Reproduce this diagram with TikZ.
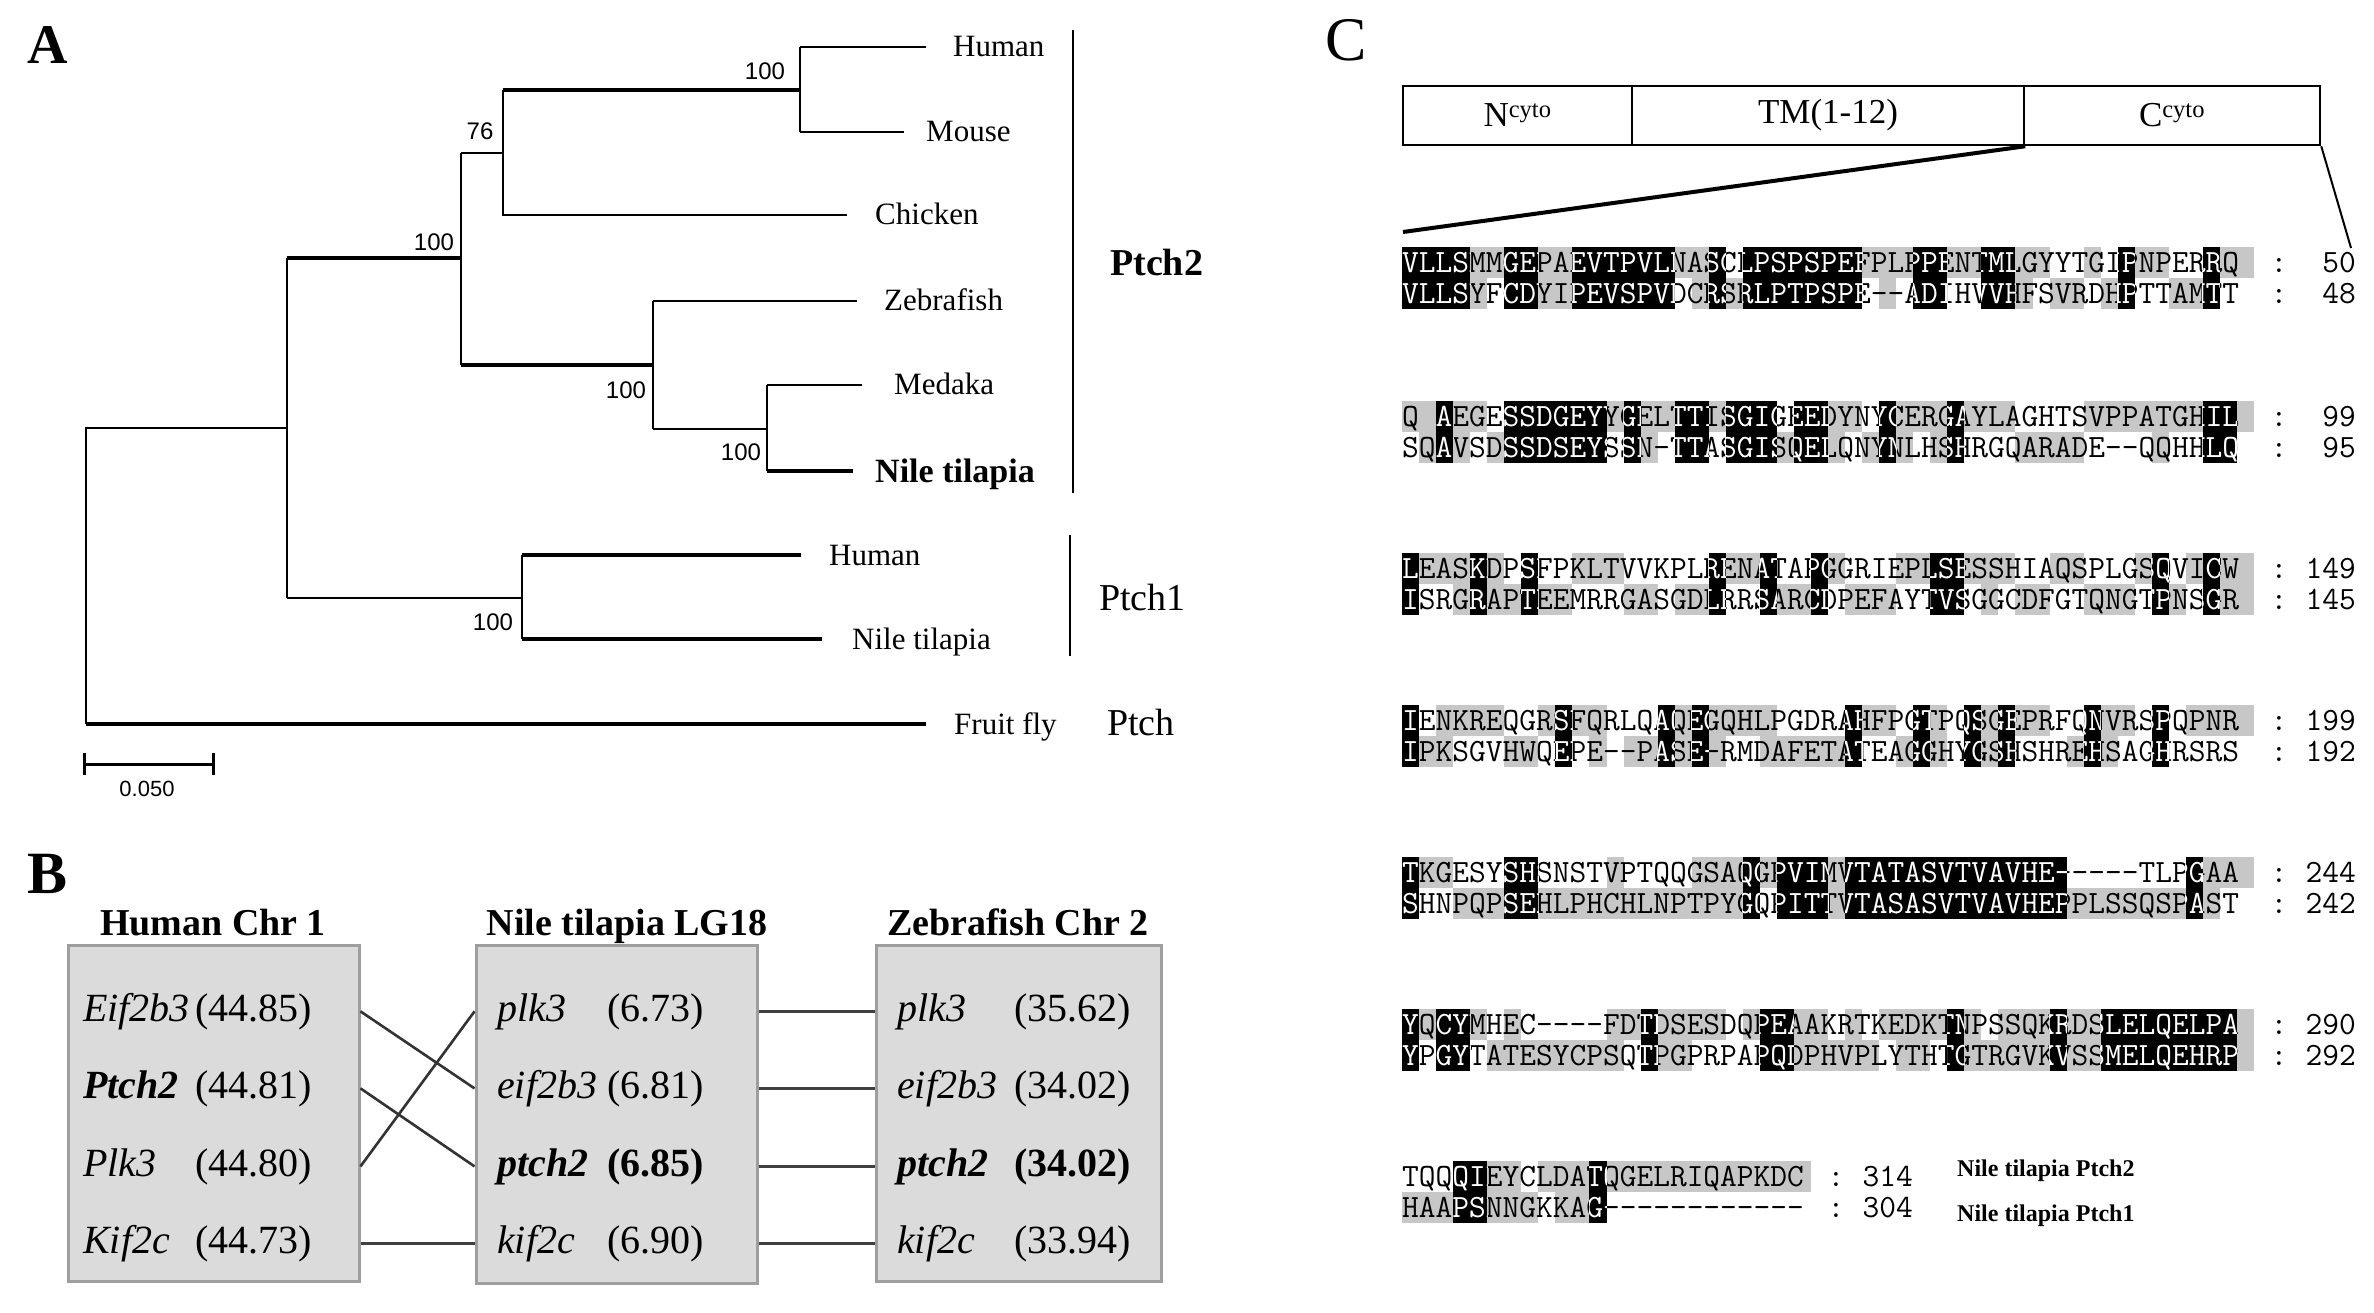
\documentclass[tikz,border=0pt]{standalone}
\usepackage{fontspec}
\setmainfont{Liberation Serif}
\newfontfamily\sansf{Liberation Sans}
\def\sx{1402}
\def\cw{17.04}
\tikzset{
  br/.style={line width=2.2pt},
  thk/.style={line width=4.2pt},
  leaf/.style={anchor=base west, inner sep=0pt, font=\fontsize{31}{36}\selectfont},
  boot/.style={anchor=center, inner sep=0pt, font=\sansf\fontsize{24}{28}\selectfont},
  clade/.style={anchor=base west, inner sep=0pt, font=\fontsize{38}{44}\selectfont},
  panel/.style={anchor=base west, inner sep=0pt},
  chrbox/.style={draw=black!38, fill=black!14, line width=3pt, inner sep=0pt},
  gene/.style={anchor=base west, inner sep=0pt, font=\fontsize{40}{46}\selectfont},
  genenum/.style={anchor=base east, inner sep=0pt, font=\fontsize{40}{46}\selectfont},
  hdr/.style={anchor=base, inner sep=0pt, font=\bfseries\fontsize{38}{44}\selectfont},
  conn/.style={line width=2.6pt, draw=black!80},
  connh/.style={line width=3.6pt, draw=black!75},
  dom/.style={draw, line width=2.5pt, inner sep=0pt, font=\fontsize{35}{40}\selectfont},
  seq/.style={anchor=base west, inner sep=0pt, font=\ttfamily\fontsize{32.5}{36}\selectfont},
  seqnum/.style={anchor=base east, inner sep=0pt, font=\ttfamily\fontsize{32.5}{36}\selectfont},
  seqcol/.style={anchor=base, inner sep=0pt, font=\ttfamily\fontsize{32.5}{36}\selectfont},
  gcell/.style={fill=black!22},
  sname/.style={anchor=base west, inner sep=0pt, font=\bfseries\fontsize{24}{28}\selectfont}
}
% #1 y of row 1, #2 seq1, #3 seq2, #4 num1, #5 num2, #6 black cols, #7 gray row1, #8 gray row2, #9 colon x
\newcommand{\alnblock}[9]{%
  \foreach \c in {#7} {\fill[gcell] ({\sx+\c*\cw},{#1-15.5}) rectangle ++(\cw,31);}
  \foreach \c in {#8} {\fill[gcell] ({\sx+\c*\cw},{#1+15.5}) rectangle ++(\cw,31);}
  \foreach \c in {#6} {\fill[black] ({\sx+\c*\cw},{#1-15.5}) rectangle ++(\cw,62);}
  \node[seq] (sa#1) at (\sx,{#1+10}) {#2};
  \node[seq] (sb#1) at (\sx,{#1+41}) {#3};
  \foreach \c in {#6} {\begin{scope}
     \clip ({\sx+\c*\cw},{#1-15.5}) rectangle ++(\cw,62);
     \node[seq,text=white] at (\sx,{#1+10}) {#2};
     \node[seq,text=white] at (\sx,{#1+41}) {#3};
   \end{scope}}
  \node[seqcol] (ca#1) at (#9,{#1+10}) {:};
  \node[seqcol] (cb#1) at (#9,{#1+41}) {:};
  \node[seqnum] (na#1) at ({#9+77},{#1+10}) {#4};
  \node[seqnum] (nb#1) at ({#9+77},{#1+41}) {#5};
}
\begin{document}
\begin{tikzpicture}[x=1pt,y=-1pt]
\useasboundingbox (0,0) rectangle (2374,1313);
\fill[white] (0,0) rectangle (2374,1313);

% ---------------- Panel A ----------------
\node[panel, font=\bfseries\fontsize{56}{60}\selectfont] (labA) at (27,64) {A};

\draw[br] (287,428) -- (86,428) -- (86,724);
\draw[thk] (86,724) -- (926,724);
\draw[br] (287,258) -- (287,598);
\draw[thk] (287,258) -- (461,258);
\draw[br] (287,598) -- (522,598);
\draw[br] (461,153) -- (461,365);
\draw[br] (461,153) -- (503,153);
\draw[br] (503,90) -- (503,215) -- (847,215);
\draw[thk] (503,90) -- (800,90);
\draw[br] (800,47) -- (800,132);
\draw[br] (800,47) -- (926,47);
\draw[br] (800,132) -- (904,132);
\draw[thk] (461,365) -- (653,365);
\draw[br] (653,301) -- (653,429);
\draw[br] (653,301) -- (857,301);
\draw[br] (653,429) -- (767,429);
\draw[br] (767,385) -- (767,471);
\draw[br] (767,385) -- (862,385);
\draw[thk] (767,471) -- (853,471);
\draw[br] (522,555) -- (522,639);
\draw[thk] (522,555) -- (801,555);
\draw[thk] (522,639) -- (822,639);

\node[leaf] (l1) at (953,57) {Human};
\node[leaf] (l2) at (926,142) {Mouse};
\node[leaf] (l3) at (875,225) {Chicken};
\node[leaf] (l4) at (884,311) {Zebrafish};
\node[leaf] (l5) at (894,395) {Medaka};
\node[leaf, font=\bfseries\fontsize{34}{38}\selectfont] (l6) at (875,482) {Nile tilapia};
\node[leaf] (l7) at (829,565) {Human};
\node[leaf] (l8) at (852,649) {Nile tilapia};
\node[leaf] (l9) at (954,734) {Fruit fly};

\node[boot] (b1) at (765,71) {100};
\node[boot] (b2) at (480,131) {76};
\node[boot] (b3) at (434,242) {100};
\node[boot] (b4) at (626,390) {100};
\node[boot] (b5) at (741,452) {100};
\node[boot] (b6) at (493,622) {100};

\draw[br] (1073,30) -- (1073,493);
\draw[br] (1070,535) -- (1070,656);
\node[clade, font=\bfseries\fontsize{38}{44}\selectfont] (p2) at (1110,276) {Ptch2};
\node[clade] (p1) at (1099,610) {Ptch1};
\node[clade] (p0) at (1107,735) {Ptch};

\draw[line width=3pt] (84,764) -- (213,764);
\draw[line width=3pt] (84,753) -- (84,775);
\draw[line width=3pt] (213,753) -- (213,775);
\node[boot, font=\sansf\fontsize{22}{26}\selectfont] (sb) at (147,789) {0.050};

% ---------------- Panel B ----------------
\node[panel, font=\bfseries\fontsize{60}{64}\selectfont] (labB) at (27,893) {B};

\node[hdr] (hh) at (213,935) {Human Chr 1};
\node[hdr] (hn) at (627,935) {Nile tilapia LG18};
\node[hdr] (hz) at (1018,935) {Zebrafish Chr 2};

\node[chrbox, minimum width=291pt, minimum height=336pt] (hbox) at (213.5,1113) {};
\node[chrbox, minimum width=281pt, minimum height=338pt] (nbox) at (616.5,1114) {};
\node[chrbox, minimum width=285pt, minimum height=336pt] (zbox) at (1018.5,1113) {};

% Human
\node[gene] (h1) at (83,1021) {\itshape Eif2b3};
\node[genenum] (h1n) at (312,1021) {(44.85)};
\node[gene] (h2) at (83,1098) {\bfseries\itshape Ptch2};
\node[genenum] (h2n) at (312,1098) {(44.81)};
\node[gene] (h3) at (83,1176) {\itshape Plk3};
\node[genenum] (h3n) at (312,1176) {(44.80)};
\node[gene] (h4) at (83,1253) {\itshape Kif2c};
\node[genenum] (h4n) at (312,1253) {(44.73)};
% Nile tilapia
\node[gene] (n1) at (497,1021) {\itshape plk3};
\node[genenum] (n1n) at (704,1021) {(6.73)};
\node[gene] (n2) at (497,1098) {\itshape eif2b3};
\node[genenum] (n2n) at (704,1098) {(6.81)};
\node[gene] (n3) at (497,1176) {\bfseries\itshape ptch2};
\node[genenum] (n3n) at (704,1176) {\bfseries (6.85)};
\node[gene] (n4) at (497,1253) {\itshape kif2c};
\node[genenum] (n4n) at (704,1253) {(6.90)};
% Zebrafish
\node[gene] (z1) at (897,1021) {\itshape plk3};
\node[genenum] (z1n) at (1131,1021) {(35.62)};
\node[gene] (z2) at (897,1098) {\itshape eif2b3};
\node[genenum] (z2n) at (1131,1098) {(34.02)};
\node[gene] (z3) at (897,1176) {\bfseries\itshape ptch2};
\node[genenum] (z3n) at (1131,1176) {\bfseries (34.02)};
\node[gene] (z4) at (897,1253) {\itshape kif2c};
\node[genenum] (z4n) at (1131,1253) {(33.94)};

\draw[conn] (hbox.east |- h1n.east) -- (nbox.west |- n2n.east);
\draw[conn] (hbox.east |- h2n.east) -- (nbox.west |- n3n.east);
\draw[conn] (hbox.east |- h3n.east) -- (nbox.west |- n1n.east);
\draw[connh] (hbox.east |- h4n.east) -- (nbox.west |- n4n.east);
\draw[connh] (nbox.east |- n1n.east) -- (zbox.west |- z1n.east);
\draw[connh] (nbox.east |- n2n.east) -- (zbox.west |- z2n.east);
\draw[connh] (nbox.east |- n3n.east) -- (zbox.west |- z3n.east);
\draw[connh] (nbox.east |- n4n.east) -- (zbox.west |- z4n.east);

% ---------------- Panel C ----------------
\node[panel, font=\fontsize{62}{66}\selectfont] (labC) at (1325,61) {C};

\node[dom, minimum width=229pt, minimum height=59pt] (nc) at (1517.5,115.5) {N\textsuperscript{cyto}};
\node[dom, minimum width=392pt, minimum height=59pt] (tm) at (1828,115.5) {TM(1-12)};
\node[dom, minimum width=296pt, minimum height=59pt] (cc) at (2172,115.5) {C\textsuperscript{cyto}};

\coordinate (zl) at (1403,232);
\coordinate (zr) at (2351,248);
\draw[line width=4pt] (tm.south east) -- (zl);
\draw[line width=2pt] (cc.south east) -- (zr);

\alnblock{263}{VLLSMMGEPAEVTPVLNASCLPSPSPEFPLPPENTMLGYYTGIPNPERRQ}{VLLSYFCDYIPEVSPVDCRSRLPTPSPE--ADIHVVHFSVRDHPTTAMTT}{50}{48}%
 {0,1,2,3,6,7,10,11,12,13,14,15,18,20,21,22,23,24,25,26,30,31,34,35,42,47}%
 {4,5,8,9,16,17,27,28,29,32,33,36,37,40,43,44,48,49}%
 {4,8,9,17,19,28,36,38,39,41,45,46}{2279}
\alnblock{416}{Q AEGESSDGEYYGELTTISGIGEEDYNYCERGAYLAGHTSVPPATGHIL}{SQAVSDSSDSEYSSN-TTASGISQELQNYNLHSHRGQARADE--QQHHLQ}{99}{95}%
 {2,6,7,8,9,10,11,13,16,17,19,20,21,23,24,28,32,47,48}%
 {0,1,3,4,12,14,15,18,25,26,29,30,31,33,34,35,40,41,42,43,44,45,46,49}%
 {1,3,5,14,22,25,27,29,31,36,37,38,39,44}{2279}
\alnblock{568}{LEASKDPSFPKLTVVKPLRENATAPGGRIEPLSESSHIAQSPLGSQVICW}{ISRGRAPTEEMRRGASGDLRRSARCDPEFAYTVSGGCDFGTQNGTPNSGR}{149}{145}%
 {0,4,7,18,21,24,31,32,44,47}%
 {1,2,3,5,10,11,12,19,20,25,29,30,33,34,35,38,39,43,46,48,49}%
 {3,5,6,8,9,13,14,16,17,22,23,26,27,28,34,36,37,40,41,42,45,48,49}{2279}
\alnblock{720}{IENKREQGRSFQRLQAQEGQHLPGDRAHFPGTPQSGEPRFQNVRSPQPNR}{IPKSGVHWQEPE--PASE-RMDAFETATEAGGHYGSHSHREHSAGHRSRS}{199}{192}%
 {0,9,15,17,26,30,33,35,40,44}%
 {2,3,4,5,8,10,11,16,18,19,20,21,27,28,31,34,36,37,41,42,46,47,48,49}%
 {1,2,6,7,11,13,14,16,18,21,22,23,24,25,29,31,34,39,41}{2279}
\alnblock{872}{TKGESYSHSNSTVPTQQGSAQGPVIMVTATASVTVAVHE-----TLPGAA}{SHNPQPSEHLPHCHLNPTPYGQPITTVTASASVTVAVHEPPLSSQSPAST}{244}{242}%
 {0,6,7,20,22,23,24,26,27,28,29,30,31,32,33,34,35,36,37,38,46}%
 {1,2,12,17,18,19,21,25,47,48,49}%
 {3,4,5,8,9,10,11,12,13,14,15,16,17,18,19,25,39,40,41,42,43,44,45,47}{2279}
\alnblock{1024}{YQCYMHEC----FDTDSESDQPEAAKRTKEDKTNPSSQKRDSLELQELPA}{YPGYTATESYCPSQTPGPRPAPQDPHVPLYTHTGTRGVKVSSMELQEHRP}{290}{292}%
 {0,2,3,14,21,22,32,38,41,42,43,44,45,46,47,48}%
 {1,4,6,12,13,15,16,17,18,20,23,24,26,28,29,30,31,33,35,36,37,39,40,49}%
 {5,6,7,8,9,10,11,12,15,16,23,24,25,26,27,29,30,33,34,35,36,37,39,40,49}{2279}
\alnblock{1176}{TQQQIEYCLDATQGELRIQAPKDC}{HAAPSNNGKKAG------------}{314}{304}%
 {3,4,11}%
 {5,6,8,9,10,12,13,14,15,16,17,18,19,20,21,22,23}%
 {0,1,2,5,6,7,9,10}{1836}

\node[sname] (sp2) at (1957,1176) {Nile tilapia Ptch2};
\node[sname] (sp1) at (1957,1221) {Nile tilapia Ptch1};
\end{tikzpicture}
\end{document}
